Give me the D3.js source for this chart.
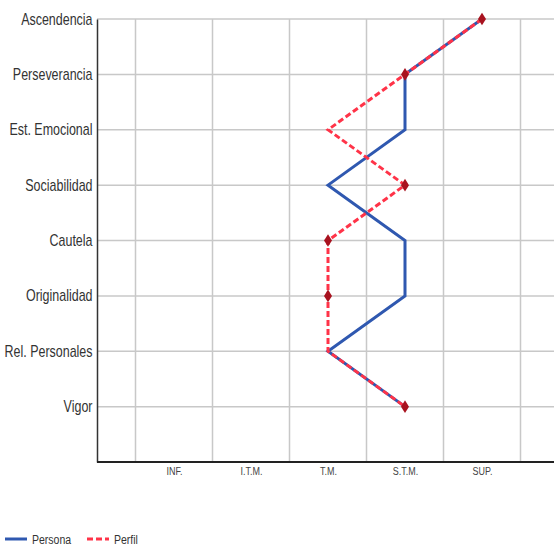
<!DOCTYPE html>
<html><head><meta charset="utf-8">
<script src="https://cdn.jsdelivr.net/npm/d3@7"></script>
<style>body{margin:0;background:#fff}svg{display:block}</style>
</head><body><svg id="c" width="554" height="547"></svg>
<script>
const traits = ["Ascendencia","Perseverancia","Est. Emocional","Sociabilidad","Cautela","Originalidad","Rel. Personales","Vigor"];
const levels = ["INF.","I.T.M.","T.M.","S.T.M.","SUP."];
const persona = ["SUP.","S.T.M.","S.T.M.","T.M.","S.T.M.","S.T.M.","T.M.","S.T.M."];
const perfil  = ["SUP.","S.T.M.","T.M.","S.T.M.","T.M.","T.M.","T.M.","S.T.M."];
const marks   = ["SUP.","S.T.M.",null,"S.T.M.","T.M.","T.M.",null,"S.T.M."];

(function(){
const svg = d3.select("#c");
const font = "'Liberation Sans',Arial,sans-serif";
const SX = 0.78; // narrow-font compression
const mL = 97, mR = 559, mT = 19, mB = 462;
const x = d3.scaleLinear().domain([0, 6]).range([mL, mR]);
const y = d3.scaleLinear().domain([0, traits.length]).range([mT, mB]);
const lv = v => levels.indexOf(v) + 1;

// grid
const g = svg.append("g");
g.selectAll(".vg").data(d3.range(0.5, 6, 1)).join("line")
  .attr("x1", d => x(d)).attr("x2", d => x(d)).attr("y1", mT).attr("y2", mB)
  .attr("stroke", "#c8c8c8").attr("stroke-width", 1.5);
g.selectAll(".hg").data(traits).join("line")
  .attr("x1", mL).attr("x2", 554).attr("y1", (d,i) => y(i)).attr("y2", (d,i) => y(i))
  .attr("stroke", "#c8c8c8").attr("stroke-width", 1.5);

// axes
const ya = d3.axisLeft(y).tickValues(d3.range(traits.length)).tickFormat(i => traits[i]).tickSize(0);
svg.append("g").attr("transform", `translate(${mL},0)`).call(ya)
  .call(s => s.select(".domain").attr("stroke", "#333").attr("stroke-width", 1.5))
  .call(s => s.selectAll("text").attr("font-family", font).attr("font-size", 16).attr("fill", "#333")
    .attr("x", -4.5 / SX).attr("transform", `scale(${SX},1)`));
const xa = d3.axisBottom(x).tickValues(levels.map((d,i) => i+1)).tickFormat(v => levels[v-1]).tickSize(0).tickPadding(5);
svg.append("g").attr("transform", `translate(0,${mB})`).call(xa)
  .call(s => s.select(".domain").attr("stroke", "#222").attr("stroke-width", 2).attr("d", `M${mL},0H554`))
  .call(s => s.selectAll("text").attr("font-family", font).attr("font-size", 11.5).attr("fill", "#444")
    .attr("transform", `scale(${SX},1)`));

// lines
const line = d3.line().x(d => x(lv(d))).y((d,i) => y(i));
svg.append("path").attr("d", line(persona)).attr("fill", "none")
  .attr("stroke", "#2f58b0").attr("stroke-width", 3);
svg.append("path").attr("d", line(perfil)).attr("fill", "none")
  .attr("stroke", "#ff3348").attr("stroke-width", 3).attr("stroke-dasharray", "6,3");

// markers
const sym = d3.symbol().type(d3.symbolDiamond).size(50);
svg.selectAll(".mk").data(marks.map((v,i) => ({v, i})).filter(d => d.v)).join("path")
  .attr("d", sym).attr("transform", d => `translate(${x(lv(d.v))},${y(d.i)}) scale(1.05,0.95)`)
  .attr("fill", "#a8121f");

// legend
const lg = svg.append("g");
lg.append("line").attr("x1", 5).attr("x2", 27).attr("y1", 539).attr("y2", 539).attr("stroke", "#2f58b0").attr("stroke-width", 3);
lg.append("line").attr("x1", 87).attr("x2", 109).attr("y1", 539).attr("y2", 539).attr("stroke", "#ff3348").attr("stroke-width", 3).attr("stroke-dasharray", "6,3");
const lt = lg.append("g").attr("transform", `scale(${SX},1)`)
  .attr("font-family", font).attr("font-size", 13.5).attr("fill", "#333");
lt.append("text").attr("x", 32 / SX).attr("y", 544).text("Persona");
lt.append("text").attr("x", 114 / SX).attr("y", 544).text("Perfil");
})();
</script></body></html>
